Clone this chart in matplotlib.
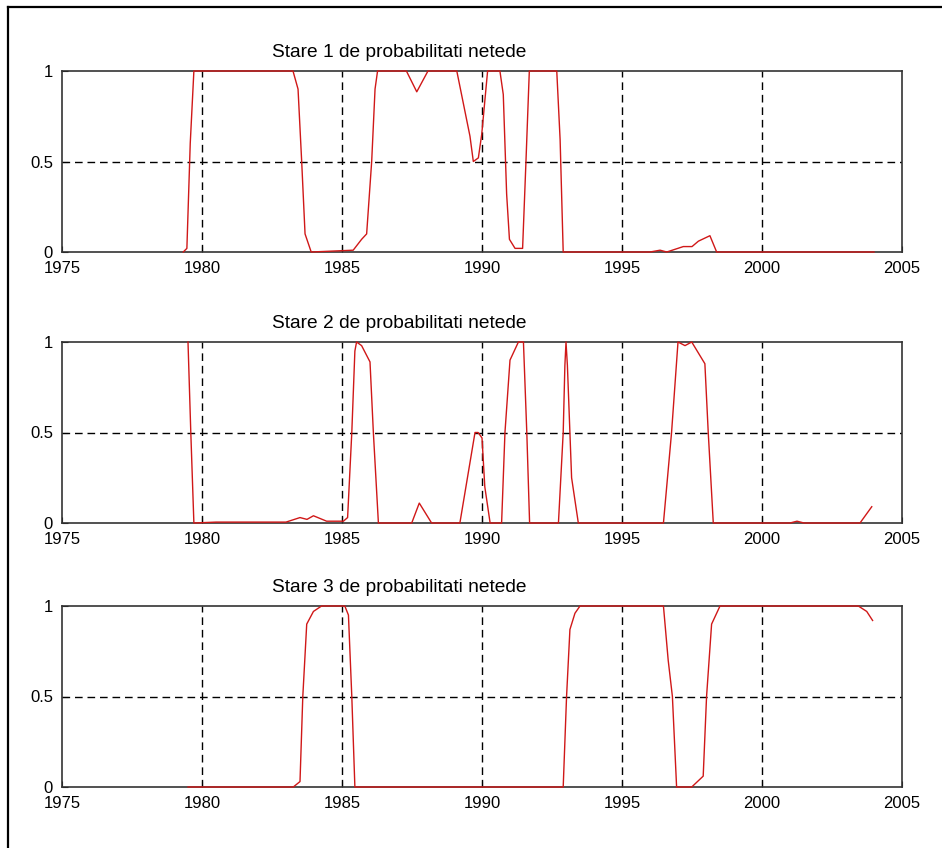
"""
Smoothed regime probabilities (3 states), MATLAB-style subplot layout.
"""

import matplotlib
matplotlib.use("Agg")
import matplotlib.pyplot as plt
from matplotlib.lines import Line2D


TITLES = [
    "Stare 1 de probabilitati netede",
    "Stare 2 de probabilitati netede",
    "Stare 3 de probabilitati netede",
]

X_TICKS = [1975, 1980, 1985, 1990, 1995, 2000, 2005]
Y_TICKS = [0, 0.5, 1]
Y_TICK_LABELS = ["0", "0.5", "1"]

# state 1
years_1 = [1979.33, 1979.46, 1979.58, 1979.71, 1983.25, 1983.43, 1983.56, 1983.68,
           1983.9, 1985.4, 1985.7, 1985.88, 1986.06, 1986.18, 1986.27, 1987.3,
           1987.67, 1988.07, 1989.1, 1989.57, 1989.69, 1989.87, 1989.99, 1990.2,
           1990.64, 1990.76, 1990.88, 1990.98, 1991.18, 1991.45, 1991.57, 1991.69,
           1992.67, 1992.79, 1992.9, 1996.0, 1996.36, 1996.6, 1997.19, 1997.5,
           1997.73, 1998.14, 1998.38, 2004.0]
prob_1 = [0, 0.02, 0.6, 1, 1, 0.9, 0.5, 0.1,
          0, 0.01, 0.07, 0.1, 0.5, 0.9, 1, 1,
          0.885, 1, 1, 0.64, 0.5, 0.52, 0.65, 1,
          1, 0.87, 0.32, 0.07, 0.02, 0.02, 0.5, 1,
          1, 0.62, 0, 0, 0.01, 0.0, 0.03, 0.03,
          0.06, 0.09, 0, 0]

# state 2
years_2 = [1979.5, 1979.6, 1979.71, 1980.5, 1983.0, 1983.5, 1983.75, 1983.98,
           1984.45, 1985.05, 1985.2, 1985.35, 1985.46, 1985.52, 1985.7, 1986.0,
           1986.12, 1986.3, 1987.49, 1987.76, 1988.2, 1989.21, 1989.75, 1989.86,
           1990.0, 1990.1, 1990.29, 1990.7, 1990.82, 1991.0, 1991.3, 1991.48,
           1991.6, 1991.7, 1992.73, 1992.9, 1992.96, 1993.0, 1993.05, 1993.2,
           1993.44, 1996.48, 1996.77, 1997.0, 1997.25, 1997.49, 1997.96, 1998.08,
           1998.26, 2001.0, 2001.25, 2001.5, 2003.5, 2003.92]
prob_2 = [1, 0.5, 0, 0.005, 0.005, 0.03, 0.02, 0.04,
          0.01, 0.01, 0.03, 0.5, 0.95, 1.0, 0.98, 0.89,
          0.5, 0, 0, 0.11, 0, 0, 0.5, 0.5,
          0.47, 0.2, 0, 0, 0.5, 0.9, 1.0, 1.0,
          0.5, 0, 0, 0.5, 0.87, 1.0, 0.87, 0.25,
          0, 0, 0.5, 1.0, 0.98, 1.0, 0.88, 0.5,
          0, 0, 0.01, 0, 0, 0.09]

# state 3
years_3 = [1979.5, 1983.26, 1983.5, 1983.6, 1983.74, 1983.98, 1984.27, 1985.1,
           1985.23, 1985.35, 1985.46, 1992.9, 1993.02, 1993.14, 1993.32, 1993.5,
           1996.48, 1996.65, 1996.8, 1996.95, 1997.49, 1997.9, 1998.02, 1998.2,
           1998.5, 2003.44, 2003.74, 2003.95]
prob_3 = [0, 0, 0.03, 0.5, 0.9, 0.97, 1.0, 1.0,
          0.95, 0.5, 0, 0, 0.5, 0.87, 0.96, 1.0,
          1.0, 0.7, 0.5, 0, 0, 0.06, 0.5, 0.9,
          1.0, 1.0, 0.97, 0.92]

SERIES = [(years_1, prob_1), (years_2, prob_2), (years_3, prob_3)]

W, H = 942, 848
plt.rcParams["font.family"] = ["Liberation Sans", "DejaVu Sans"]

fig = plt.figure(figsize=(W / 100, H / 100), dpi=100)
fig.patch.set_facecolor("white")

# axes boxes in pixels: (top, bottom)
left, right = 62, 902
boxes = [(71, 252), (342, 523), (606, 787)]

grid_style = dict(color="black", linestyle=(0, (5.5, 3.5)), linewidth=1.0, zorder=1)

for (top, bottom), (xs, ys), title in zip(boxes, SERIES, TITLES):
    ax = fig.add_axes([left / W, 1 - bottom / H, (right - left) / W, (bottom - top) / H])
    ax.plot(xs, ys, color="#d01818", linewidth=1.0, zorder=3, clip_on=False)
    ax.set_xlim(X_TICKS[0], X_TICKS[-1])
    ax.set_ylim(Y_TICKS[0], Y_TICKS[-1])
    ax.set_xticks(X_TICKS)
    ax.set_yticks(Y_TICKS)
    ax.set_yticklabels(Y_TICK_LABELS)
    ax.tick_params(direction="in", length=4, width=0.8, labelsize=12, pad=6.5,
                   colors="black")

    # grid only on interior ticks, like MATLAB
    for xt in X_TICKS[1:-1]:
        ax.axvline(xt, **grid_style)
    for yt in Y_TICKS[1:-1]:
        ax.axhline(yt, **grid_style)

    for sp in ax.spines.values():
        sp.set_color("#333333")
        sp.set_linewidth(1.2)
    ax.text(0.402, 1.075, title, transform=ax.transAxes, ha="center",
            va="baseline", fontsize=13.8)

# figure frame (only left and top edges visible in the crop)
fig.add_artist(Line2D([8 / W, 8 / W], [0, 1 - 7 / H], color="black", linewidth=1.6,
                      transform=fig.transFigure))
fig.add_artist(Line2D([8 / W, 1], [1 - 7 / H, 1 - 7 / H], color="black", linewidth=1.6,
                      transform=fig.transFigure))

plt.savefig("out.png", dpi=100)
plt.close()
